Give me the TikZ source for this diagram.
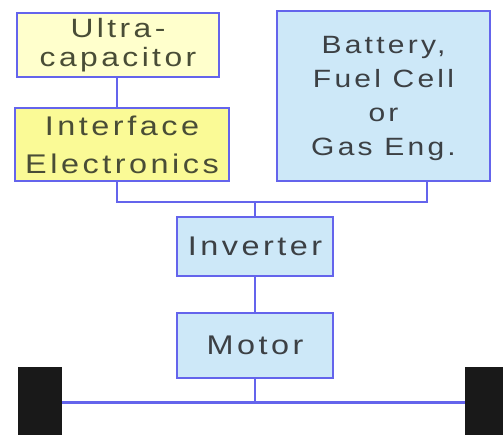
\documentclass[tikz,border=0pt]{standalone}
\usepackage{fontspec}
\newfontfamily\boxfont[FakeStretch=1.2,LetterSpace=13]{Liberation Sans}
\usepackage{xcolor}
\usetikzlibrary{positioning}
\definecolor{linkblue}{HTML}{6464EC}
\definecolor{paleyellow}{HTML}{FFFFCC}
\definecolor{midyellow}{HTML}{FAFA96}
\definecolor{paleblue}{HTML}{CDE8F8}
\definecolor{boxtext}{HTML}{3C4044}
\begin{document}
\begin{tikzpicture}[
    x=1pt, y=-1pt,
    box/.style={
      rectangle, draw=linkblue, line width=1.8pt, fill=paleblue,
      inner sep=0pt, align=center, text=boxtext,
      font=\boxfont\fontsize{25}{33}\selectfont
    },
    ybox/.style={box, fill=paleyellow, text=boxtext!80!olive},
    link/.style={draw=linkblue, line width=2.2pt},
    wheel/.style={fill=black!90, draw=none}
  ]
  \useasboundingbox (0,0) rectangle (503,435);

  % Left column
  \node[ybox, minimum width=202pt, minimum height=64pt,
    font=\boxfont\fontsize{26.5}{29}\selectfont] (ucap) at (118,45)
    {Ultra-\\capacitor};
  \node[ybox, fill=midyellow, minimum width=214pt, minimum height=73pt,
    font=\boxfont\fontsize{27}{38}\selectfont] (iface) at (122,144.5)
    {Interface\\Electronics};

  % Right column
  \node[box, minimum width=213pt, minimum height=170pt,
    font=\boxfont\fontsize{25}{34}\selectfont] (batt) at (383.5,96)
    {\\[-12pt]Battery,\\Fuel Cell\\or\\Gas Eng.};

  % Middle column
  \node[box, minimum width=156pt, minimum height=59pt,
    font=\boxfont\fontsize{27}{33}\selectfont] (inv) at (255,246.5) {Inverter};
  \node[box, minimum width=156pt, minimum height=65pt,
    font=\boxfont\fontsize{27}{33}\selectfont] (motor) at (255,345.5) {Motor};

  % Wheels
  \fill[wheel] (18,367) rectangle (62,435);
  \fill[wheel] (465,367) rectangle (503,435);
  \coordinate (lhub) at (62,402);
  \coordinate (rhub) at (465,402);

  % Connectors
  \coordinate (joint) at (255,202);
  \coordinate (ifout) at (117,181);
  \coordinate (bout) at (427,181);
  \draw[link] (ucap.south -| ifout) -- (iface.north -| ifout);
  \draw[link] (ifout) |- (joint);
  \draw[link] (bout) |- (joint);
  \draw[link] (joint) -- (inv.north);
  \draw[link] (inv) -- (motor);
  \draw[link] (motor.south) -- (motor.south |- lhub);
  \draw[link, line width=3pt] (lhub) -- (rhub);

\end{tikzpicture}
\end{document}
